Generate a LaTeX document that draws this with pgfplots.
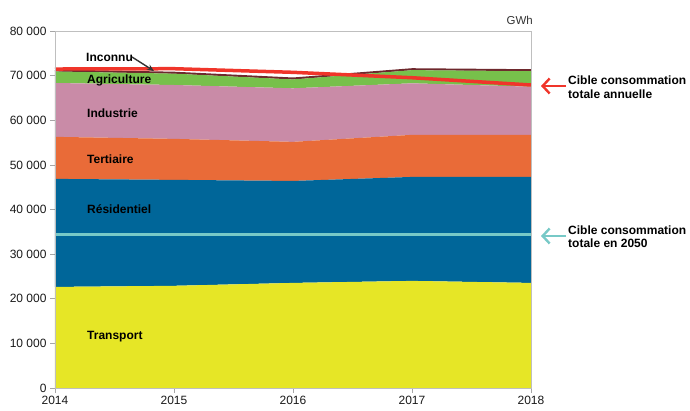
\documentclass[border=0pt]{standalone}
\usepackage{pgfplots}
\pgfplotsset{compat=1.18}
\usepackage{fontspec}
\setmainfont{Liberation Sans}
\usetikzlibrary{arrows.meta}
\definecolor{ctransport}{RGB}{230,230,38}
\definecolor{cresid}{RGB}{0,102,153}
\definecolor{ctert}{RGB}{233,107,56}
\definecolor{cindus}{RGB}{201,139,167}
\definecolor{cagri}{RGB}{119,192,75}
\definecolor{cinconnu}{RGB}{110,40,45}
\definecolor{cred}{RGB}{240,53,42}
\definecolor{ccyan}{RGB}{119,201,199}
\begin{document}
\begin{tikzpicture}[font=\fontsize{12}{14}\selectfont]
\useasboundingbox (-55pt,-22pt) rectangle (635pt,388pt);
\begin{axis}[
  at={(0,0)}, anchor=south west,
  width=476pt, height=357pt, scale only axis,
  xmin=2014, xmax=2018, ymin=0, ymax=80000,
  xtick={2014,2015,2016,2017,2018},
  ytick={0,10000,20000,30000,40000,50000,60000,70000,80000},
  /pgf/number format/assume math mode=true,
  x tick label style={/pgf/number format/1000 sep={}},
  y tick label style={/pgf/number format/1000 sep={\ }},
  scaled y ticks=false,
  axis line style={draw=black!25},
  tick style={draw=black!35, line width=0.6pt},
  tick align=outside, major tick length=5pt,
  xtick pos=bottom, ytick pos=left,
  tick label style={text=black!90, font=\fontsize{12}{14}\selectfont},
  stack plots=y,
  axis on top=false,
]
\addplot[fill=ctransport, draw=none] coordinates {(2014,22650) (2015,22900) (2016,23550) (2017,24000) (2018,23550)} \closedcycle;
\addplot[fill=cresid, draw=none] coordinates {(2014,24210) (2015,23740) (2016,22850) (2017,23300) (2018,23750)} \closedcycle;
\addplot[fill=ctert, draw=none] coordinates {(2014,9420) (2015,9190) (2016,8760) (2017,9430) (2018,9430)} \closedcycle;
\addplot[fill=cindus, draw=none] coordinates {(2014,12070) (2015,12070) (2016,12000) (2017,11550) (2018,10790)} \closedcycle;
\addplot[fill=cagri, draw=none] coordinates {(2014,2590) (2015,2550) (2016,1990) (2017,2950) (2018,3490)} \closedcycle;
\addplot[fill=cinconnu, draw=none] coordinates {(2014,250) (2015,250) (2016,250) (2017,250) (2018,250)} \closedcycle;
\end{axis}
\begin{axis}[
  at={(0,0)}, anchor=south west,
  width=476pt, height=357pt, scale only axis,
  xmin=2014, xmax=2018, ymin=0, ymax=80000,
  hide axis, clip=false,
]
\addplot[cinconnu, line width=1.6pt] coordinates {(2014,71190) (2015,70700) (2016,69400) (2017,71480) (2018,71260)};
\addplot[cred, line width=3.5pt] coordinates {(2014,71480) (2015,71550) (2016,70740) (2017,69530) (2018,67900)};
\addplot[ccyan, line width=3.5pt] coordinates {(2014,34400) (2018,34400)};
\end{axis}
% box
\draw[black!25, line width=0.6pt] (0,0) rectangle (476pt,357pt);
% category labels
\begin{scope}[every node/.style={anchor=west, inner sep=0pt, font=\fontsize{12}{14}\selectfont\bfseries, text=black}]
\node at (31pt,331pt) {Inconnu};
\node at (32pt,308pt) {Agriculture};
\node at (32pt,275pt) {Industrie};
\node at (32pt,229pt) {Tertiaire};
\node at (32pt,179pt) {Résidentiel};
\node at (32pt,51pt) {Transport};
\end{scope}
\draw[black!80, line width=1.4pt, -{Stealth[length=7pt,width=6pt]}] (77pt,331pt) -- (99pt,317pt);
% GWh
\node[anchor=east, inner sep=0pt, text=black!80, font=\fontsize{11.5}{14}\selectfont] at (478pt,368pt) {GWh};
% right annotations
\draw[cred, line width=2.4pt, -{Straight Barb[length=7pt,width=15pt]}] (511pt,302pt) -- (486pt,302pt);
\node[anchor=west, align=left, inner sep=0pt, font=\fontsize{12}{13.5}\selectfont\bfseries] at (513pt,301pt) {Cible consommation\\totale annuelle};
\draw[ccyan, line width=2.4pt, -{Straight Barb[length=7pt,width=15pt]}] (511pt,152pt) -- (486pt,152pt);
\node[anchor=west, align=left, inner sep=0pt, font=\fontsize{12}{13.5}\selectfont\bfseries] at (513pt,151.5pt) {Cible consommation\\totale en 2050};
\end{tikzpicture}
\end{document}
